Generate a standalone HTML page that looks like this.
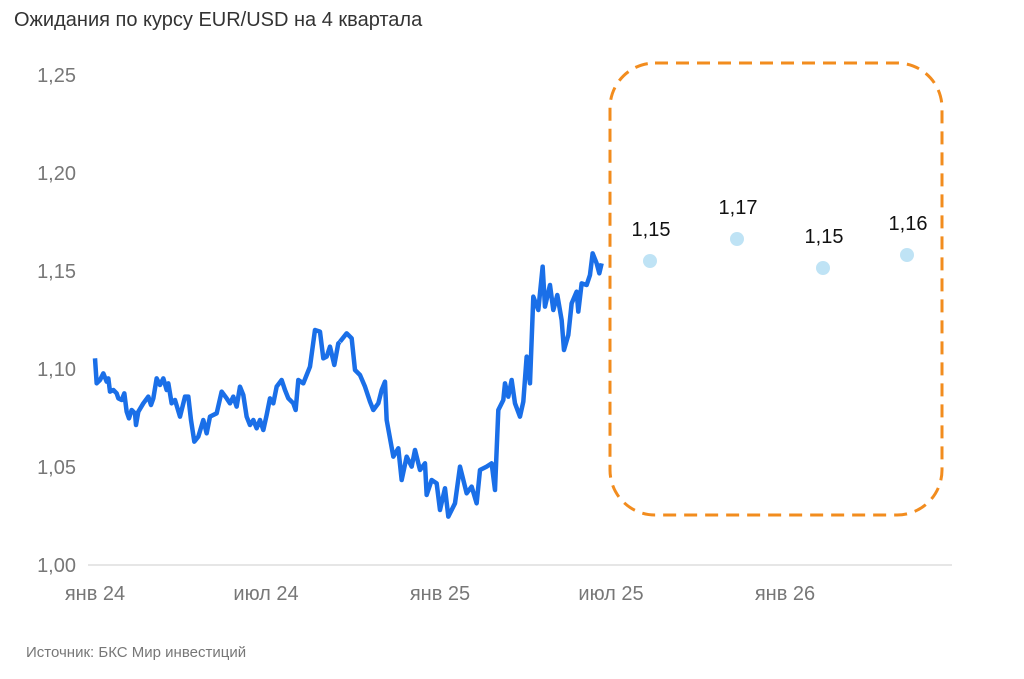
<!DOCTYPE html>
<html><head><meta charset="utf-8"><style>
body{margin:0;background:#fff;width:1024px;height:674px;overflow:hidden;font-family:"Liberation Sans",sans-serif}
</style></head><body>
<svg width="1024" height="674" xmlns="http://www.w3.org/2000/svg" font-family="Liberation Sans, sans-serif">
<text x="14" y="26" font-size="20" fill="#333">Ожидания по курсу EUR/USD на 4 квартала</text>
<g font-size="20" fill="#777" text-anchor="end">
<text x="76" y="82">1,25</text>
<text x="76" y="180">1,20</text>
<text x="76" y="278">1,15</text>
<text x="76" y="376">1,10</text>
<text x="76" y="474">1,05</text>
<text x="76" y="572">1,00</text>
</g>
<line x1="88" y1="565" x2="952" y2="565" stroke="#ccc" stroke-width="1"/>
<g font-size="20" fill="#777" text-anchor="middle">
<text x="95" y="600">янв 24</text>
<text x="266" y="600">июл 24</text>
<text x="440" y="600">янв 25</text>
<text x="611" y="600">июл 25</text>
<text x="785" y="600">янв 26</text>
</g>
<rect x="610" y="63" width="332" height="452" rx="45" fill="none" stroke="#f28c1e" stroke-width="3" stroke-dasharray="13,8"/>
<g fill="none" stroke="#1a6fe8" stroke-width="4.5" stroke-linejoin="round">
<polyline vector-effect="non-scaling-stroke" transform="translate(85,320) scale(0.3333)" points="30,115 35,190 45,180 55,160 65,185 70,175 75,215 85,210 95,220 100,235 110,240 118,220 125,275 132,295 140,270 150,280 153,315 160,275 175,250 190,230 198,255 205,235 215,175 225,195 235,175 245,210 250,190 260,250 270,240 285,290 300,230 310,230 318,300 328,365 340,350 355,300 365,340 375,290 395,280 410,215 425,235 435,250 445,230 455,260 465,200 475,225 485,290 495,315 505,300 515,325 525,300 535,330 545,285 555,235 565,250 575,200 590,180 600,210 610,235 625,250 632,270 640,180 655,190 665,165 675,140 690,30 705,35 715,115 725,110 735,80 748,135 760,70 765,66"/>
<polyline vector-effect="non-scaling-stroke" transform="translate(340,250) scale(0.3333)" points="0,275 20,250 35,265 45,360 60,375 75,410 90,455 100,480 115,460 125,420 135,395 140,510 160,620 175,595 185,690 200,620 215,650 225,600 240,660 255,640 260,735 275,690 290,700 300,780 315,715 325,800 345,760 360,650 370,690 380,730 395,710 410,760 420,660 440,650 455,640 465,720 475,480 490,450 495,400 505,440 515,390 525,460 540,500 550,455 560,320 570,400 580,140 595,180 608,50 615,170 630,105 640,180 652,135 665,210 672,300 685,255 695,160 710,125 715,185 725,100 740,105 750,75 758,10 770,40 778,70 785,40"/>
</g>
<g fill="#bfe3f5">
<circle cx="650" cy="261" r="7"/><circle cx="737" cy="239" r="7"/><circle cx="823" cy="268" r="7"/><circle cx="907" cy="255" r="7"/>
</g>
<g font-size="20" fill="#111" text-anchor="middle">
<text x="651" y="236">1,15</text><text x="738" y="214">1,17</text><text x="824" y="243">1,15</text><text x="908" y="230">1,16</text>
</g>
<text x="26" y="657" font-size="15" fill="#777">Источник: БКС Мир инвестиций</text>
</svg>
</body></html>
